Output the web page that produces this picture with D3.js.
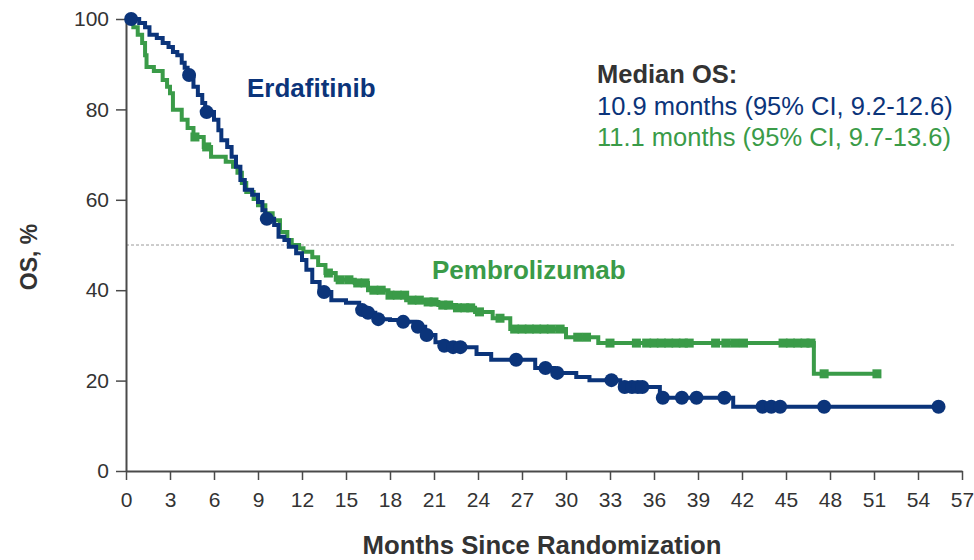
<!DOCTYPE html>
<html>
<head>
<meta charset="utf-8">
<script src="https://cdn.jsdelivr.net/npm/d3@7"></script>
<style>
  html, body { margin: 0; padding: 0; background: #fff; }
  svg { display: block; }
</style>
</head>
<body>
<svg id="chart" width="974" height="560"></svg>
<script>
// Kaplan–Meier overall survival, step points: time (months) and survival (%)
const erdaTime = [0, 0.9, 1.3, 1.6, 2.1, 2.5, 2.9, 3.2, 3.5, 3.8, 4.0, 4.2, 4.6, 4.9, 5.2, 5.4,
  6.0, 6.3, 6.5, 6.9, 7.2, 7.5, 7.8, 8.1, 8.6, 9.0, 9.3, 9.5, 10.1, 10.4, 10.8, 11.1, 11.6,
  12.0, 12.3, 12.7, 13.2, 14.0, 15.0, 15.9, 16.4, 17.0, 18.0, 18.7, 19.7, 20.4, 21.1, 21.6,
  22.1, 23.9, 24.9, 27.9, 29.2, 30.7, 31.6, 33.7, 36.4, 41.4, 55.4];
const erdaSurv = [100, 99.1, 98.2, 96.5, 95.8, 94.7, 93.8, 92.7, 92.0, 90.3, 89.2, 87.6, 85.0, 83.2, 81.4, 79.4,
  77.7, 75.4, 73.2, 71.7, 69.5, 67.3, 64.4, 62.2, 61.1, 59.5, 57.7, 55.8, 54.4, 51.8, 51.1, 49.6, 48.2,
  46.7, 44.5, 41.8, 39.6, 37.8, 37.2, 35.6, 35.0, 33.6, 33.4, 33.0, 31.9, 30.1, 28.5, 27.7,
  27.4, 25.9, 24.6, 22.8, 21.7, 20.8, 20.1, 18.6, 16.2, 14.2, 14.2];
const erdaCensor = [0.35, 4.3, 5.5, 9.6, 13.5, 16.1, 16.5, 17.2, 18.9, 19.9, 20.5, 21.7, 22.3, 22.8,
  26.6, 28.6, 29.4, 33.1, 34.0, 34.5, 34.9, 35.2, 36.6, 37.9, 38.9, 40.8, 43.4, 44.0, 44.6, 47.6, 55.4];

const pembroTime = [0, 0.5, 0.8, 1.1, 1.3, 1.4, 1.9, 2.5, 2.8, 3.0, 3.2, 3.8, 4.2, 4.6, 5.3, 5.8,
  6.8, 7.3, 7.6, 7.9, 8.2, 8.7, 9.0, 9.5, 10.0, 10.5, 11.0, 11.3, 11.8, 12.1, 12.7, 13.1, 13.6,
  14.3, 15.6, 16.5, 17.9, 19.1, 20.2, 21.3, 22.5, 23.8, 25.0, 26.2, 30.0, 32.2, 46.9, 51.2];
const pembroSurv = [100, 98.2, 96.5, 94.7, 92.0, 89.4, 88.5, 86.5, 85.0, 83.6, 79.9, 77.7, 75.9, 73.9, 71.7, 69.5,
  68.4, 67.3, 66.0, 63.7, 61.7, 60.2, 58.8, 57.0, 55.5, 52.9, 51.1, 50.0, 49.3, 48.5, 47.3, 45.6, 43.8,
  42.3, 41.6, 40.0, 38.9, 37.8, 37.4, 36.7, 36.1, 35.2, 33.8, 31.4, 29.6, 28.3, 21.5, 21.5];
const pembroCensor = [4.7, 5.5, 13.8, 14.6, 15.2, 15.8, 16.3, 16.9, 17.4, 18.0, 18.5, 19.0, 19.5, 20.0,
  20.6, 21.0, 21.6, 22.0, 22.6, 23.1, 23.5, 24.1, 25.5, 26.5, 27.0, 27.5, 28.0, 28.5, 29.0, 29.6,
  30.8, 31.4, 33.0, 34.8, 35.5, 36.0, 36.5, 37.0, 37.5, 38.0, 38.4, 40.2, 40.9, 41.5, 42.1,
  44.8, 45.3, 45.8, 46.3, 46.7, 47.6, 51.2];

const xTicks = d3.range(0, 58, 3);
const yTicks = [0, 20, 40, 60, 80, 100];
const medianLevel = 50;

const legendTitle = "Median OS:";
const erdaMedianText = "10.9 months (95% CI, 9.2-12.6)";
const pembroMedianText = "11.1 months (95% CI, 9.7-13.6)";

const BLUE = "#0b347a";
const GREEN = "#3a9b48";
const AXIS = "#4a4a4a";
const TEXT = "#333333";

const svg = d3.select("#chart");
const x = d3.scaleLinear().domain([0, 57]).range([126, 962]);
const y = d3.scaleLinear().domain([0, 100]).range([471, 19]);

// reference line at the median
svg.append("line")
  .attr("x1", x(0)).attr("x2", x(56.5))
  .attr("y1", y(medianLevel)).attr("y2", y(medianLevel))
  .attr("stroke", "#9a9a9a").attr("stroke-width", 1)
  .attr("stroke-dasharray", "3,2");

// axes
const xAxis = svg.append("g")
  .attr("transform", `translate(0,${y(0)})`)
  .call(d3.axisBottom(x).tickValues(xTicks).tickSize(9).tickSizeOuter(0).tickPadding(12));
const yAxis = svg.append("g")
  .attr("transform", `translate(${x(0)},0)`)
  .call(d3.axisLeft(y).tickValues(yTicks).tickSize(10).tickSizeOuter(0).tickPadding(7));

[xAxis, yAxis].forEach(g => {
  g.select(".domain").attr("stroke", AXIS).attr("stroke-width", 2);
  g.selectAll(".tick line").attr("stroke", AXIS).attr("stroke-width", 1.5);
  g.selectAll(".tick text")
    .attr("fill", TEXT)
    .style("font-family", "'Liberation Sans Narrow', 'Arial Narrow', sans-serif")
    .style("font-size", "21px");
});

// axis titles
svg.append("text")
  .attr("x", 542).attr("y", 554)
  .attr("text-anchor", "middle")
  .attr("fill", TEXT)
  .attr("textLength", 359).attr("lengthAdjust", "spacingAndGlyphs")
  .style("font-family", "'Liberation Sans Narrow', 'Arial Narrow', sans-serif")
  .style("font-weight", "bold").style("font-size", "26px")
  .text("Months Since Randomization");

svg.append("text")
  .attr("transform", "translate(37,257) rotate(-90)")
  .attr("text-anchor", "middle")
  .attr("fill", TEXT)
  .style("font-family", "'Liberation Sans', Arial, sans-serif")
  .style("font-weight", "bold").style("font-size", "23px")
  .text("OS, %");

// survival curves
const line = d3.line()
  .x(d => x(d[0])).y(d => y(d[1]))
  .curve(d3.curveStepAfter);

function stepValue(times, surv, t) {
  const i = d3.bisectRight(times, t) - 1;
  return surv[Math.max(0, i)];
}

const pembroPts = pembroTime.map((t, i) => [t, pembroSurv[i]]);
const erdaPts = erdaTime.map((t, i) => [t, erdaSurv[i]]);

svg.append("path").datum(pembroPts)
  .attr("d", line).attr("fill", "none")
  .attr("stroke", GREEN).attr("stroke-width", 4);

const sq = 9;
svg.append("g").selectAll("rect")
  .data(pembroCensor)
  .join("rect")
  .attr("x", t => x(t) - sq / 2)
  .attr("y", t => y(stepValue(pembroTime, pembroSurv, t)) - sq / 2)
  .attr("width", sq).attr("height", sq)
  .attr("fill", GREEN);

svg.append("path").datum(erdaPts)
  .attr("d", line).attr("fill", "none")
  .attr("stroke", BLUE).attr("stroke-width", 4);

svg.append("g").selectAll("circle")
  .data(erdaCensor)
  .join("circle")
  .attr("cx", t => x(t))
  .attr("cy", t => y(stepValue(erdaTime, erdaSurv, t)))
  .attr("r", 7)
  .attr("fill", BLUE);

// series labels
svg.append("text")
  .attr("x", 247).attr("y", 97)
  .attr("fill", BLUE)
  .style("font-family", "'Liberation Sans', Arial, sans-serif")
  .style("font-weight", "bold").style("font-size", "26px")
  .text("Erdafitinib");

svg.append("text")
  .attr("x", 432).attr("y", 279)
  .attr("fill", GREEN)
  .style("font-family", "'Liberation Sans', Arial, sans-serif")
  .style("font-weight", "bold").style("font-size", "26px")
  .text("Pembrolizumab");

// median summary
const legend = svg.append("g")
  .style("font-family", "'Liberation Sans', Arial, sans-serif")
  .style("font-size", "25.5px");
legend.append("text").attr("x", 597).attr("y", 83)
  .attr("fill", TEXT).style("font-weight", "bold").text(legendTitle);
legend.append("text").attr("x", 597).attr("y", 115)
  .attr("fill", BLUE).text(erdaMedianText);
legend.append("text").attr("x", 597).attr("y", 146)
  .attr("fill", GREEN).text(pembroMedianText);
</script>
</body>
</html>
